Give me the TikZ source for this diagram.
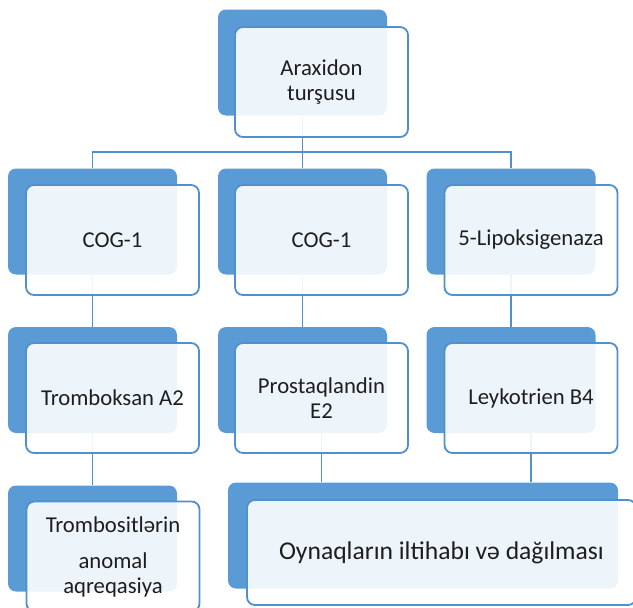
\documentclass[tikz,border=0pt]{standalone}
\usepackage{fontspec}
\setmainfont{Carlito}
\definecolor{acc}{HTML}{5B9BD5}
\definecolor{accd}{HTML}{5090CC}
\definecolor{txt}{HTML}{1E1E1E}
\pgfdeclarelayer{backl}
\pgfdeclarelayer{linel}
\pgfsetlayers{backl,linel,main}
\begin{document}
\begin{tikzpicture}[x=1pt,y=-1pt,
 back/.style={fill=acc, rounded corners=8pt, minimum width=169pt, minimum height=106pt, inner sep=0pt},
 front/.style={fill=white, fill opacity=0.9, text opacity=1, draw=accd, line width=1.8pt, rounded corners=8pt, minimum width=173pt, minimum height=110pt, inner sep=0pt, align=center, text=txt, font=\fontsize{22.7}{25}\selectfont},
 link/.style={draw=accd, line width=1.8pt}]
\useasboundingbox (0,0) rectangle (633,608);
% front boxes
\node[front] (f1) at (321.5,82) {Araxidon\\turşusu};
\node[front] (f21) at (112.5,240) {COG-1};
\node[front] (f22) at (321.5,240) {COG-1};
\node[front] (f23) at (531,240) {5-Lipoksigenaza};
\node[front] (f31) at (112.5,398) {Tromboksan A2};
\node[front] (f32) at (321.5,398) {Prostaqlandin\\E2};
\node[front] (f33) at (531,398) {Leykotrien B4};
\node[front] (f41) at (113,556.5) {Trombositlərin\\[11pt]anomal\\aqreqasiya};
\node[front, minimum width=389pt, minimum height=105pt, font=\fontsize{25.6}{30}\selectfont] (f42) at (441.5,552.5) {Oynaqların iltihabı və dağılması};
% back boxes
\begin{pgfonlayer}{backl}
\node[back] (b1) at (302.5,62.5) {};
\node[back] (b21) at (92.5,221.5) {};
\node[back] (b22) at (302.5,221.5) {};
\node[back] (b23) at (511,221.5) {};
\node[back] (b31) at (92.5,380) {};
\node[back] (b32) at (302.5,380) {};
\node[back] (b33) at (511,380) {};
\node[back] (b41) at (92.5,538.5) {};
\node[back, minimum width=390pt] (b42) at (423,535.5) {};
\end{pgfonlayer}
% connectors
\begin{pgfonlayer}{linel}
\coordinate (hub) at (302.5,152);
\draw[link] (b1.south) -- (hub);
\draw[link] (hub) -| (b21.north);
\draw[link] (hub) -| (b23.north);
\draw[link] (hub) -- (b22.north);
\draw[link] (b21.south) -- (b31.north);
\draw[link] (b22.south) -- (b32.north);
\draw[link] (b23.south) -- (b33.north);
\draw[link] (b31.south) -- (b41.north);
\draw[link] (b32.south -| f32.south) -- (f32.south |- b42.north);
\draw[link] (b33.south -| f33.south) -- (f33.south |- b42.north);
\end{pgfonlayer}
\end{tikzpicture}
\end{document}
